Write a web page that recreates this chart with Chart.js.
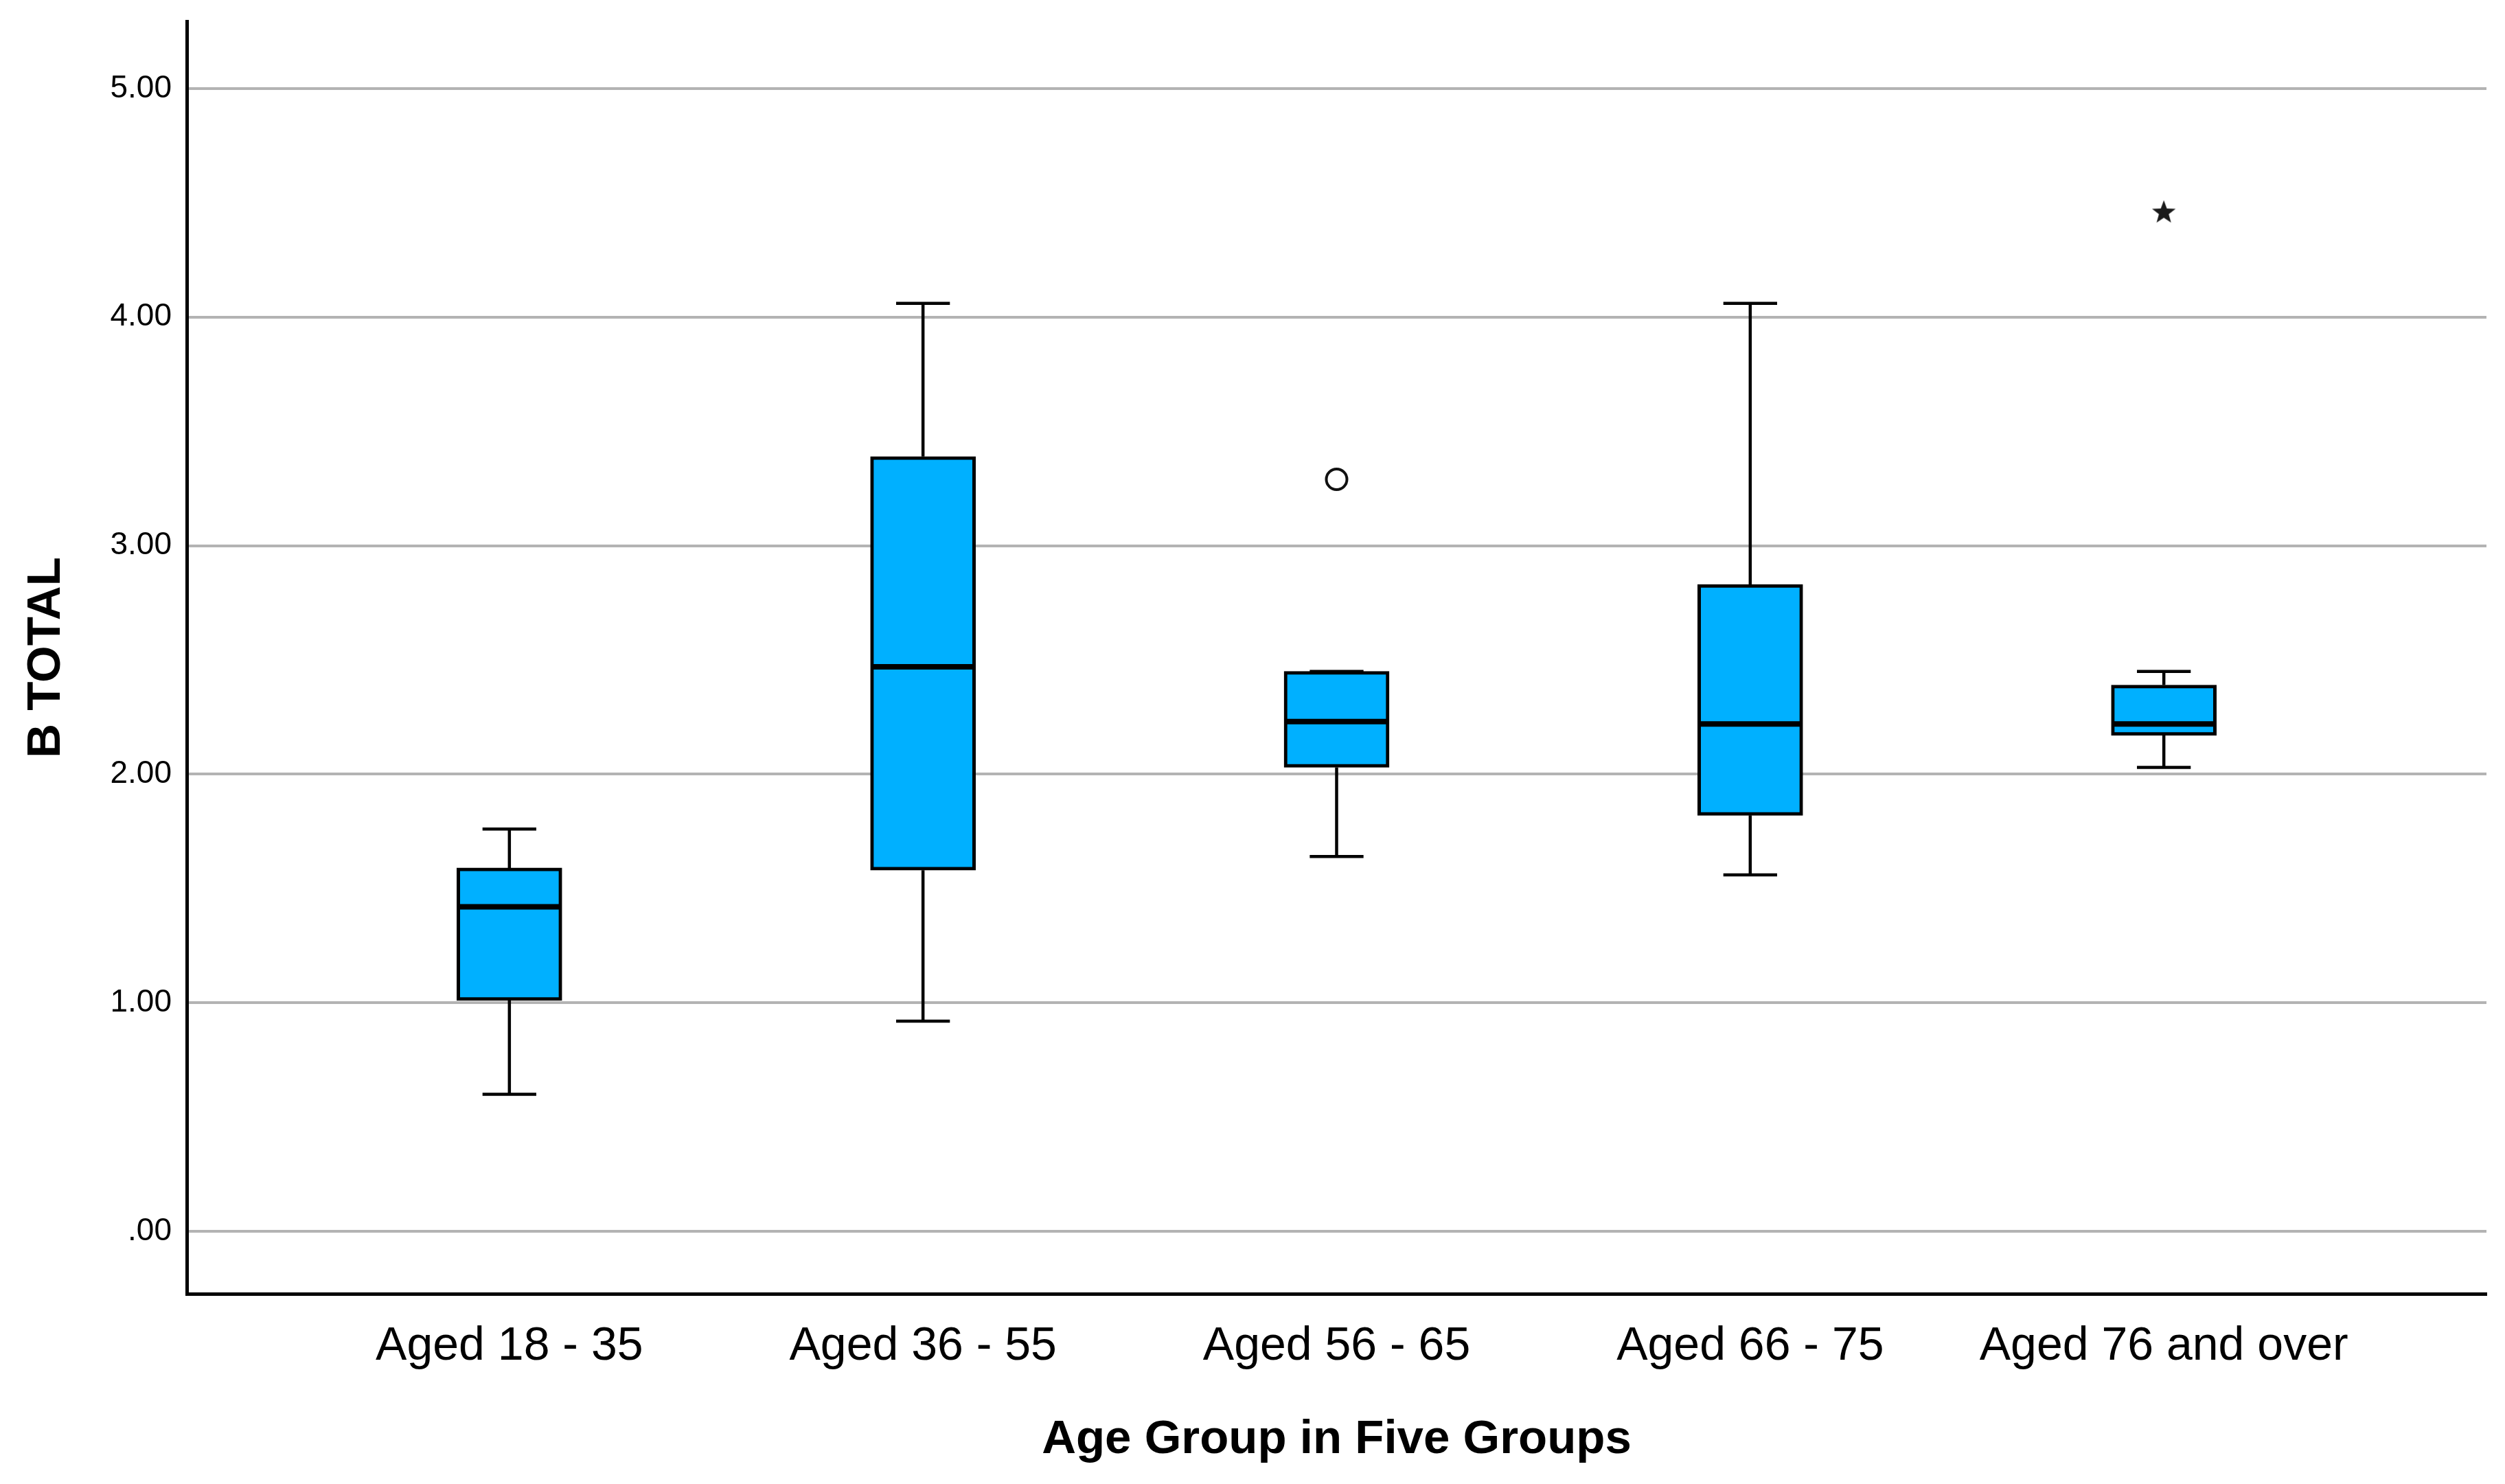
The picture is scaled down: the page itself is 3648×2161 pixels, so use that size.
<!DOCTYPE html>
<html>
<head>
<meta charset="utf-8">
<script src="https://cdn.jsdelivr.net/npm/chart.js@4.4.1/dist/chart.umd.min.js"></script>
<style>
  html, body { margin: 0; padding: 0; background: #ffffff; }
  #wrap { width: 3648px; height: 2161px; }
  canvas { display: block; }
</style>
</head>
<body>
<div id="wrap"><canvas id="c" width="3648" height="2161"></canvas></div>
<script>
// ---- Data ----
const categories   = ['Aged 18 - 35', 'Aged 36 - 55', 'Aged 56 - 65', 'Aged 66 - 75', 'Aged 76 and over'];
const whiskerLow   = [0.60, 0.92, 1.64, 1.56, 2.03];
const quartile1    = [1.01, 1.58, 2.03, 1.82, 2.17];
const medians      = [1.42, 2.47, 2.23, 2.22, 2.22];
const quartile3    = [1.59, 3.39, 2.45, 2.83, 2.39];
const whiskerHigh  = [1.76, 4.06, 2.45, 4.06, 2.45];
const outlierGroup = [3];      // 1-based category index (circle)
const outlierValue = [3.29];
const extremeGroup = [5];      // 1-based category index (star)
const extremeValue = [4.46];
const yTickValues  = [0, 1, 2, 3, 4, 5];
const yTickLabels  = ['.00', '1.00', '2.00', '3.00', '4.00', '5.00'];
const xTitle = 'Age Group in Five Groups';
const yTitle = 'B TOTAL';

// ---- Style constants ----
const BOX_HALF = 0.125;   // half box width in category units
const CAP_HALF = 0.065;   // half whisker-cap width in category units
const FILL = '#00b0ff';
const FONT = "'Liberation Sans', Arial, Helvetica, sans-serif";

// ---- Build datasets from the arrays ----
const pos = categories.map((_, i) => i + 1);
const boxData = pos.map((x, i) => ({ x: x, y: [quartile1[i], quartile3[i]] }));
const stemData = [];
const capData = [];
const medData = [];
pos.forEach((x, i) => {
  stemData.push({ x: x, y: quartile1[i] }, { x: x, y: whiskerLow[i] }, { x: x, y: null });
  stemData.push({ x: x, y: quartile3[i] }, { x: x, y: whiskerHigh[i] }, { x: x, y: null });
  capData.push({ x: x - CAP_HALF, y: whiskerLow[i] }, { x: x + CAP_HALF, y: whiskerLow[i] }, { x: x, y: null });
  capData.push({ x: x - CAP_HALF, y: whiskerHigh[i] }, { x: x + CAP_HALF, y: whiskerHigh[i] }, { x: x, y: null });
  medData.push({ x: x - BOX_HALF, y: medians[i] }, { x: x + BOX_HALF, y: medians[i] }, { x: x, y: null });
});
const outData = outlierGroup.map((g, i) => ({ x: g, y: outlierValue[i] }));
const extData = extremeGroup.map((g, i) => ({ x: g, y: extremeValue[i] }));

// star marker image
const starImg = document.createElement('canvas');
starImg.width = 40; starImg.height = 40;
(function () {
  const c = starImg.getContext('2d');
  c.fillStyle = '#1a1a1a';
  c.beginPath();
  for (let k = 0; k < 10; k++) {
    const r = k % 2 === 0 ? 18 : 7.5;
    const a = -Math.PI / 2 + k * Math.PI / 5;
    const px = 20 + r * Math.cos(a), py = 21 + r * Math.sin(a);
    if (k === 0) c.moveTo(px, py); else c.lineTo(px, py);
  }
  c.closePath();
  c.fill();
})();

const lineBase = {
  type: 'line', pointRadius: 0, pointHoverRadius: 0, tension: 0, spanGaps: false,
  borderColor: '#000000', fill: false
};

new Chart(document.getElementById('c'), {
  type: 'bar',
  data: {
    datasets: [
      Object.assign({}, lineBase, { label: 'stems', data: stemData, borderWidth: 4.5, order: 4 }),
      Object.assign({}, lineBase, { label: 'caps', data: capData, borderWidth: 4.5, order: 3 }),
      { type: 'bar', label: 'box', data: boxData, backgroundColor: FILL, borderColor: '#000000',
        borderWidth: 5, borderSkipped: false, barThickness: 153, order: 2 },
      Object.assign({}, lineBase, { label: 'median', data: medData, borderWidth: 8, order: 1 }),
      { type: 'line', label: 'outliers', data: outData, showLine: false, pointStyle: 'circle',
        pointRadius: 15, pointBorderWidth: 4, pointBorderColor: '#111111', pointBackgroundColor: '#ffffff', order: 0 },
      { type: 'line', label: 'extremes', data: extData, showLine: false, pointStyle: starImg,
        pointRadius: 18, order: 0 }
    ]
  },
  options: {
    responsive: false,
    devicePixelRatio: 1,
    animation: false,
    events: [],
    layout: { padding: { top: 31, right: 27, left: 0, bottom: 0 } },
    plugins: { legend: { display: false }, tooltip: { enabled: false }, title: { display: false } },
    scales: {
      x: {
        type: 'linear',
        min: 0.22, max: 5.78,
        offset: false,
        grid: { display: false, drawTicks: false, offset: false },
        border: { display: true, color: '#000000', width: 5 },
        afterBuildTicks: (s) => { s.ticks = pos.map(v => ({ value: v })); },
        afterFit: (s) => { s.height = 277; s.paddingLeft = 0; s.paddingRight = 0; },
        ticks: {
          autoSkip: false, maxRotation: 0, minRotation: 0, padding: 36,
          color: '#000000', font: { family: FONT, size: 68 },
          callback: (v) => categories[Math.round(v) - 1]
        },
        title: {
          display: true, text: xTitle, color: '#000000',
          font: { family: FONT, size: 69, weight: 'bold', lineHeight: 1 },
          padding: { top: 0, bottom: 30 }
        }
      },
      y: {
        type: 'linear',
        min: -0.273, max: 5.294,
        grid: { display: true, drawTicks: false, color: '#b3b3b3', lineWidth: 4 },
        border: { display: true, color: '#000000', width: 5 },
        afterBuildTicks: (s) => { s.ticks = yTickValues.map(v => ({ value: v })); },
        afterFit: (s) => { s.width = 272; s.paddingTop = 0; s.paddingBottom = 0; },
        ticks: {
          padding: 22, color: '#000000', font: { family: FONT, size: 46 },
          callback: (v) => yTickLabels[yTickValues.indexOf(v)]
        },
        title: {
          display: true, text: yTitle, color: '#000000',
          font: { family: FONT, size: 69, weight: 'bold', lineHeight: 1 },
          padding: { top: 33, bottom: 0 }
        }
      }
    }
  }
});
</script>
</body>
</html>
